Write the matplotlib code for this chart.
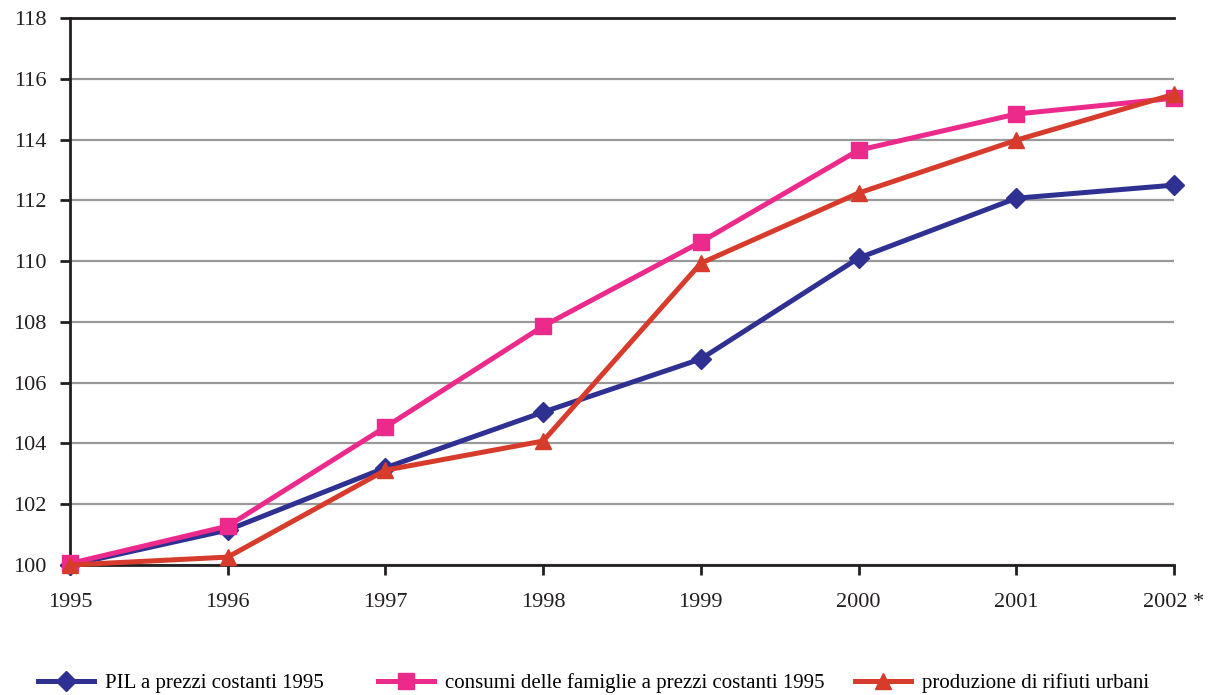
import matplotlib.pyplot as plt
import numpy as np

plt.rcParams['font.family'] = ['Liberation Serif', 'DejaVu Serif']

years = ['1995', '1996', '1997', '1998', '1999', '2000', '2001', '2002 *']
pil = [100.0, 101.15, 103.2, 105.03, 106.78, 110.1, 112.07, 112.5]
consumi = [100.05, 101.28, 104.54, 107.86, 110.63, 113.65, 114.84, 115.36]
rifiuti = [100.0, 100.26, 103.12, 104.08, 109.93, 112.24, 113.98, 115.49]
labels = ['PIL a prezzi costanti 1995',
          'consumi delle famiglie a prezzi costanti 1995',
          'produzione di rifiuti urbani']

fig = plt.figure(figsize=(12.1, 6.95), dpi=100)
ax = fig.add_axes([70 / 1210, 1 - 565 / 695, (1174 - 70) / 1210, (565 - 18) / 695])

x = np.arange(len(years))
h1, = ax.plot(x, pil, color='#2E3192', lw=3.6, marker='D', ms=10, label=labels[0], zorder=3, clip_on=False)
h2, = ax.plot(x, consumi, color='#EC2A8C', lw=3.6, marker='s', ms=11, label=labels[1], zorder=4, clip_on=False)
h3, = ax.plot(x, rifiuti, color='#D63B2C', lw=3.6, marker='^', ms=12, label=labels[2], zorder=5, clip_on=False)

ax.set_xlim(0, len(years) - 1)
ax.set_ylim(100, 118)
ax.set_yticks(np.arange(100, 119, 2))
ax.set_xticks(x)
ax.set_xticklabels(years)
ax.yaxis.grid(True, color='#999999', lw=1.6)
ax.set_axisbelow(True)

ax.spines['right'].set_visible(False)
for s in ['left', 'bottom', 'top']:
    ax.spines[s].set_color('#231F20')
    ax.spines[s].set_linewidth(2)
ax.tick_params(axis='both', direction='out', length=7, width=2, color='#231F20',
               labelsize=16, labelcolor='#231F20')
ax.tick_params(axis='y', pad=10)
ax.tick_params(axis='x', pad=13)

# one legend per entry, placed like the original
for h, xpos in zip([h1, h2, h3], [38, 378, 855]):
    fig.legend(handles=[h], loc='center left', bbox_to_anchor=(xpos / 1210, 0.017),
               frameon=False, fontsize=15, handlelength=2.7, handletextpad=0.5,
               borderaxespad=0, borderpad=0)

fig.savefig('out.png', dpi=100)
